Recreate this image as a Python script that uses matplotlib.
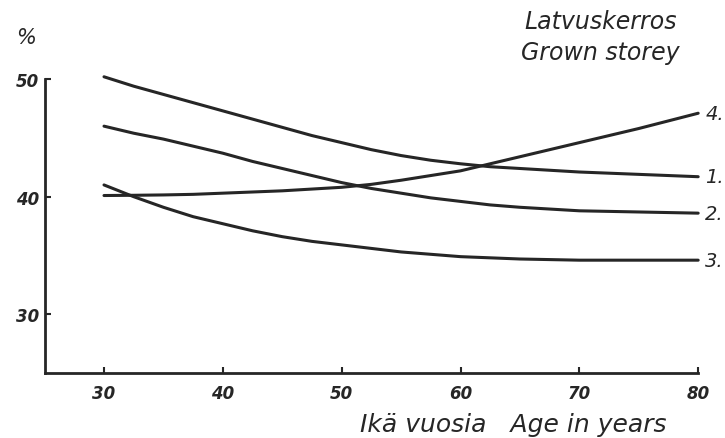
import matplotlib
matplotlib.use("Agg")
import matplotlib.pyplot as plt

# Age (years) and percentage values for the four crown-storey curves
ages = [30, 32.5, 35, 37.5, 40, 42.5, 45, 47.5, 50, 52.5, 55,
        57.5, 60, 62.5, 65, 67.5, 70, 72.5, 75, 77.5, 80]
curve_1 = [50.2, 49.4, 48.7, 48.0, 47.3, 46.6, 45.9, 45.2, 44.6, 44.0, 43.5,
           43.1, 42.8, 42.55, 42.4, 42.25, 42.1, 42.0, 41.9, 41.8, 41.7]
curve_2 = [46.0, 45.4, 44.9, 44.3, 43.7, 43.0, 42.4, 41.8, 41.2, 40.7, 40.3,
           39.9, 39.6, 39.3, 39.1, 38.95, 38.8, 38.75, 38.7, 38.65, 38.6]
curve_3 = [41.0, 40.0, 39.1, 38.3, 37.7, 37.1, 36.6, 36.2, 35.9, 35.6, 35.3,
           35.1, 34.9, 34.8, 34.7, 34.65, 34.6, 34.6, 34.6, 34.6, 34.6]
curve_4 = [40.1, 40.12, 40.15, 40.2, 40.3, 40.4, 40.5, 40.65, 40.8, 41.05, 41.4,
           41.8, 42.2, 42.8, 43.4, 44.0, 44.6, 45.2, 45.8, 46.45, 47.1]
series = [("1.", curve_1), ("2.", curve_2), ("3.", curve_3), ("4.", curve_4)]

x_ticks = [30, 40, 50, 60, 70, 80]
y_ticks = [30, 40, 50]

ink = "#262626"
font = dict(family="DejaVu Sans", style="italic", color=ink)

fig = plt.figure(figsize=(7.25, 4.39), dpi=100)
ax = fig.add_axes([0.0615, 0.148, 0.9015, 0.723])
ax.set_xlim(25, 80)
ax.set_ylim(25, 52)

for name, vals in series:
    ax.plot(ages, vals, color=ink, lw=2.2, solid_capstyle="round",
            solid_joinstyle="round", clip_on=False)
    ax.text(80.6, vals[-1], name, fontsize=14, ha="left", va="center", **font)

for side in ("top", "right"):
    ax.spines[side].set_visible(False)
for side in ("left", "bottom"):
    ax.spines[side].set_linewidth(2.0)
    ax.spines[side].set_color(ink)
ax.spines["left"].set_bounds(25, 50)
ax.spines["bottom"].set_bounds(25, 80)

ax.set_xticks(x_ticks)
ax.set_yticks(y_ticks)
ax.set_xticklabels([str(t) for t in x_ticks], fontsize=12, fontweight="bold", **font)
ax.set_yticklabels([str(t) for t in y_ticks], fontsize=12, fontweight="bold", **font)
ax.tick_params(axis="both", direction="in", length=4, width=1.5, color=ink)
ax.tick_params(axis="x", pad=8)
ax.tick_params(axis="y", pad=4)

fig.text(0.036, 0.914, "%", fontsize=15, ha="center", va="center", **font)
fig.text(0.828, 0.950, "Latvuskerros", fontsize=17, ha="center", va="center", **font)
fig.text(0.828, 0.880, "Grown storey", fontsize=17, ha="center", va="center", **font)
fig.text(0.708, 0.032, "Ikä vuosia   Age in years", fontsize=18, ha="center", va="center", **font)

fig.savefig("out.png", dpi=100)
